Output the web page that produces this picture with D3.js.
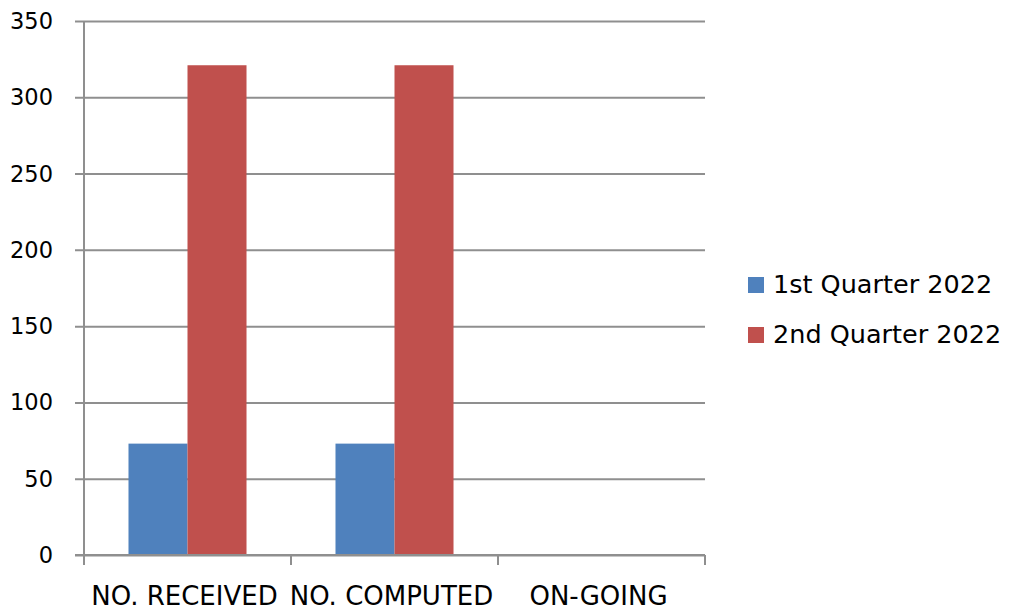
<!DOCTYPE html>
<html><head><meta charset="utf-8">
<script src="https://cdn.jsdelivr.net/npm/d3@7"></script>
<style>body{margin:0;background:#fff}svg{display:block}</style>
</head><body>
<svg id="c" width="1010" height="611"></svg>
<script>
const categories = ["NO. RECEIVED", "NO. COMPUTED", "ON-GOING"];
const seriesNames = ["1st Quarter 2022", "2nd Quarter 2022"];
const q1Values = [73, 73, 0];
const q2Values = [321, 321, 0];
const yTicks = [0, 50, 100, 150, 200, 250, 300, 350];
const colors = ["#4f81bd", "#c0504d"];

(function () {
const svg = d3.select("#c");
const pl = 84, pr = 705, pt = 21, pb = 555;
const x = d3.scaleBand().domain(categories).range([pl, pr]).paddingInner(0).paddingOuter(0);
const y = d3.scaleLinear().domain([0, 350]).range([pb, pt]);
const xs = d3.scaleBand().domain(seriesNames).range([0, x.bandwidth()]).paddingInner(0).paddingOuter(0.754);

const grid = "#8f8f8f";
const yAxis = d3.axisLeft(y).tickValues(yTicks).tickSize(pr - pl + 9).tickSizeOuter(0);
const gy = svg.append("g").attr("transform", `translate(${pr},0)`).call(yAxis);
gy.select(".domain").remove();
gy.selectAll(".tick line").attr("stroke", grid).attr("stroke-width", 2);
gy.selectAll(".tick text").remove();
svg.append("g").selectAll("text").data(yTicks).join("text")
  .attr("x", 53).attr("y", d => y(d) + 8)
  .attr("text-anchor", "end")
  .attr("font-family", "DejaVu Sans").attr("font-size", 22.5).attr("fill", "#000")
  .text(d => d);

const series = [q1Values, q2Values];
series.forEach((vals, si) => {
  svg.append("g").selectAll("rect").data(categories).join("rect")
    .attr("x", (c) => x(c) + xs(seriesNames[si]))
    .attr("width", xs.bandwidth())
    .attr("y", (c, i) => y(vals[i]))
    .attr("height", (c, i) => y(0) - y(vals[i]))
    .attr("fill", colors[si]);
});

svg.append("line").attr("x1", pl).attr("x2", pl).attr("y1", pt).attr("y2", pb + 10)
  .attr("stroke", grid).attr("stroke-width", 2);
svg.append("line").attr("x1", pl - 9).attr("x2", pr).attr("y1", pb).attr("y2", pb)
  .attr("stroke", grid).attr("stroke-width", 2);
const bounds = categories.map(c => x(c)).concat([pr]);
svg.append("g").selectAll("line").data(bounds).join("line")
  .attr("x1", d => d).attr("x2", d => d).attr("y1", pb).attr("y2", pb + 10)
  .attr("stroke", grid).attr("stroke-width", 2);

svg.append("g").selectAll("text").data(categories).join("text")
  .attr("x", c => x(c) + x.bandwidth() / 2 - 3).attr("y", 605)
  .attr("text-anchor", "middle")
  .attr("font-family", "DejaVu Sans").attr("font-size", 26).attr("fill", "#000")
  .text(c => c);

const lg = svg.append("g").selectAll("g").data(seriesNames).join("g")
  .attr("transform", (d, i) => `translate(748,${277 + i * 50})`);
lg.append("rect").attr("width", 16).attr("height", 16).attr("fill", (d, i) => colors[i]);
lg.append("text").attr("x", 25).attr("y", 16).attr("font-family", "DejaVu Sans").attr("font-size", 25.5)
  .attr("fill", "#000").text(d => d);
})();
</script>
</body></html>
